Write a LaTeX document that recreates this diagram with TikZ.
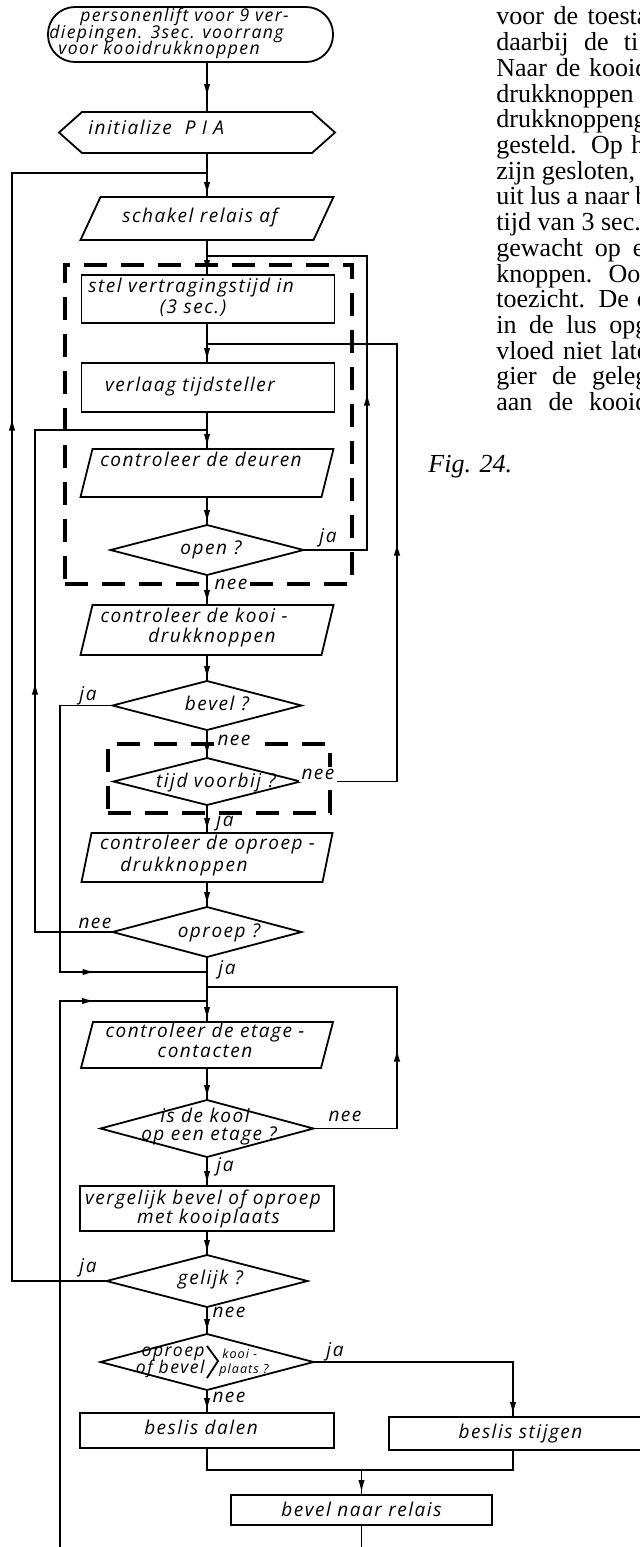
\documentclass[tikz,border=0pt]{standalone}
\usepackage{fontspec}
\setmainfont{Liberation Serif}
\newfontfamily\flowfont[LetterSpace=8]{Open Sans}
\usetikzlibrary{arrows.meta,decorations.markings}

% outline helpers for the flowchart symbols
\newcommand\iopath[2]{\draw[line] (#1.south west) -- ([xshift=#2]#1.north west) -- (#1.north east) -- ([xshift=-#2]#1.south east) -- cycle;}
\newcommand\decpath[1]{\draw[line] (#1.north) -- (#1.east) -- (#1.south) -- (#1.west) -- cycle;}
% one justified line of the running text
\newcommand\bline[2][76pt]{\makebox[#1][s]{#2}}

\begin{document}
\begin{tikzpicture}[x=0.5pt,y=-0.5pt,
  line/.style={line width=0.9pt},
  tipat/.style={postaction={decorate,decoration={markings,
      mark=at position #1 with {\arrow{Latex[length=6.5pt,width=3.2pt]}}}}},
  sz/.style 2 args={minimum width=#1*0.5pt, minimum height=#2*0.5pt},
  shapebox/.style={inner sep=0pt, outer sep=0pt},
  procbox/.style={shapebox, draw, line width=0.9pt},
  grp/.style={shapebox, draw, line width=1.6pt, dash pattern=on 11.5pt off 7pt},
  txt/.style={inner sep=0pt, anchor=mid, font=\flowfont\itshape\fontsize{9.5pt}{11pt}\selectfont},
  txtl/.style={txt, anchor=mid west},
  termtxt/.style={txtl, font=\flowfont\itshape\fontsize{8.8pt}{10pt}\selectfont},
  small/.style={txt, font=\flowfont\itshape\fontsize{6.3pt}{7pt}\selectfont},
  wlbl/.style={txt, fill=white, inner xsep=1.5pt, inner ysep=1pt},
  body/.style={inner sep=0pt, anchor=base west, font=\fontsize{13pt}{14pt}\selectfont},
]
\useasboundingbox (0,0) rectangle (640,1547);
\clip (0,0) rectangle (640,1547);

% reference rails
\coordinate (colx) at (207,0);
\coordinate (railA) at (12,173);
\coordinate (railB) at (35,430);
\coordinate (railC) at (60,972);
\coordinate (railD) at (60,1001);
\coordinate (railE) at (367,256);
\coordinate (railF) at (397,344);
\coordinate (railG) at (397,987);
\coordinate (railS) at (513,0);
\coordinate (mergeY) at (0,1470);
\coordinate (botL) at (60,1547);
\coordinate (botR) at (361.5,1547);

% ---------- symbols ----------
\node[shapebox, sz={285}{55}] (term) at (190.5,34.5) {};
\draw[line, rounded corners=13.5pt] (term.south west) rectangle (term.north east);

\node[shapebox, sz={276}{41}] (init) at (197,132.5) {};
\draw[line] (init.west) -- ([xshift=11.5pt]init.north west) -- ([xshift=-11.5pt]init.north east)
  -- (init.east) -- ([xshift=-11.5pt]init.south east) -- ([xshift=11.5pt]init.south west) -- cycle;

\node[shapebox, sz={253}{43}] (schakel) at (207,218.5) {};
\iopath{schakel}{10pt}

\node[grp, sz={287}{319}] (grp1) at (208.5,424.5) {};
\node[procbox, sz={253}{48}] (stel) at (208,299) {};
\node[procbox, sz={253}{49}] (verlaag) at (208,387.5) {};
\node[shapebox, sz={253}{48}] (deuren) at (207,473) {};
\iopath{deuren}{6pt}
\node[shapebox, sz={193}{50}] (open) at (207,550) {};
\decpath{open}

\node[shapebox, sz={253}{50}] (kooidruk) at (207,630) {};
\iopath{kooidruk}{6pt}
\node[shapebox, sz={189}{49}] (bevel) at (207,705.5) {};
\decpath{bevel}

\node[grp, sz={222}{69}] (grp2) at (219,778.5) {};
\node[shapebox, sz={187}{47}] (tijd) at (207,781.5) {};
\decpath{tijd}

\node[shapebox, sz={251}{49}] (oproepdruk) at (207,857.5) {};
\iopath{oproepdruk}{5pt}
\node[shapebox, sz={189}{50}] (oproep) at (207,932) {};
\decpath{oproep}

\node[shapebox, sz={252}{46}] (etage) at (207,1045) {};
\iopath{etage}{6pt}
\node[shapebox, sz={213}{57}] (kooi) at (207,1128.5) {};
\decpath{kooi}

\node[procbox, sz={254}{45}] (vergelijk) at (207,1208.5) {};
\node[shapebox, sz={201}{52}] (gelijk) at (207,1281) {};
\decpath{gelijk}
\node[shapebox, sz={213}{56}] (cmp) at (207,1362) {};
\decpath{cmp}

\node[procbox, sz={254}{35}] (dalen) at (207,1430.5) {};
\node[procbox, sz={261}{33}] (stijgen) at (519.5,1433.5) {};
\node[procbox, sz={261}{30}] (relais) at (361.5,1510) {};

% ---------- texts in the symbols ----------
\node[termtxt] (t1) at (80,17) {personenlift voor 9 ver-};
\node[termtxt] (t2) at (49,33.5) {diepingen. 3sec. voorrang};
\node[termtxt] (t3) at (58,50) {voor kooidrukknoppen};
\node[txtl] (tinit) at (88,130) {initialize\ \ P\,\,I\,\,A};
\node[txt] (tschakel) at (200,218) {schakel relais af};
\node[txtl] (tstel1) at (88,288) {stel vertragingstijd in};
\node[txt] (tstel2) at (193,309) {(3 sec.)};
\node[txt] (tverlaag) at (190,387) {verlaag tijdsteller};
\node[txt] (tdeuren) at (201,462) {controleer de deuren};
\node[txt] (topen) at (211,550) {open ?};
\node[txt] (tkd1) at (194,618) {controleer de kooi -};
\node[txt] (tkd2) at (212,638) {drukknoppen};
\node[txt] (tbevel) at (217,706) {bevel ?};
\node[txt] (ttijd) at (216,783) {tijd voorbij ?};
\node[txt] (tod1) at (207.5,845) {controleer de oproep -};
\node[txt] (tod2) at (184,867) {drukknoppen};
\node[txt] (toproep) at (219,933) {oproep ?};
\node[txt] (tet1) at (205,1033) {controleer de etage -};
\node[txt] (tet2) at (205,1053) {contacten};
\node[txt] (tk1) at (205,1118) {is de kooi};
\node[txt] (tk2) at (209,1136) {op een etage ?};
\node[txt] (tv1) at (203,1200) {vergelijk bevel of oproep};
\node[txt] (tv2) at (208.5,1219) {met kooiplaats};
\node[txt] (tgelijk) at (210.5,1280) {gelijk ?};
\node[txt, anchor=mid east, font=\flowfont\itshape\fontsize{8.8pt}{10pt}\selectfont] (tc1) at (205,1352) {oproep};
\node[txt, anchor=mid east, font=\flowfont\itshape\fontsize{8.8pt}{10pt}\selectfont] (tc2) at (205,1369) {of bevel};
\draw[line] (207,1346) -- (218,1361) -- (207,1378);
\node[small, anchor=mid west] (tc3) at (222,1354) {kooi -};
\node[small, anchor=mid west] (tc4) at (219,1369) {plaats ?};
\node[txt] (tdalen) at (201,1430) {beslis dalen};
\node[txt] (tstijgen) at (520.5,1434) {beslis stijgen};
\node[txt] (trelais) at (361.5,1512) {bevel naar relais};

% ---------- main column ----------
\draw[line, tipat=17.5pt] (term.south -| colx) -- (init.north -| colx);
\draw[line, tipat=-1pt] (init.south -| colx) -- (schakel.north);
\draw[line, tipat=-1pt] (schakel.south) -- (stel.north -| colx);
\draw[line, tipat=-1pt] (stel.south -| colx) -- (verlaag.north -| colx);
\draw[line, tipat=-1pt] (verlaag.south -| colx) -- (deuren.north);
\draw[line, tipat=-1pt] (deuren.south) -- (open.north);
\draw[line, tipat=-1pt] (open.south) -- (kooidruk.north);
\draw[line, tipat=-1pt] (kooidruk.south) -- (bevel.north);
\draw[line, tipat=-1pt] (bevel.south) -- (tijd.north);
\draw[line, tipat=-1pt] (tijd.south) -- (oproepdruk.north);
\draw[line, tipat=-1pt] (oproepdruk.south) -- (oproep.north);
\draw[line, tipat=-1pt] (oproep.south) -- (etage.north);
\draw[line, tipat=-1pt] (etage.south) -- (kooi.north);
\draw[line, tipat=-1pt] (kooi.south) -- (vergelijk.north);
\draw[line, tipat=-1pt] (vergelijk.south) -- (gelijk.north);
\draw[line, tipat=-1pt] (gelijk.south) -- (cmp.north);
\draw[line, tipat=-1pt] (cmp.south) -- (dalen.north);

% ---------- loops ----------
\draw[line, tipat=479pt] (gelijk.west) -| (railA) -- (railA -| colx);
\draw[line, tipat=164pt] (oproep.west) -| (railB) -- (railB -| colx);
\draw[line, tipat=177.25pt] (bevel.west) -| (railC) -- (railC -| colx);
\draw[line, tipat=290.5pt] (botL) -- (railD) -- (railD -| colx);
\draw[line, tipat=110.5pt] (open.east) -| (railE) -- (railE -| colx);
\draw[line, tipat=167.75pt] (tijd.east) -| (railF) -- (railF -| colx);
\draw[line, tipat=81.75pt] (kooi.east) -| (railG) -- (railG -| colx);

% ---------- up / down decision ----------
\draw[line, tipat=-1pt] (cmp.east) -| (railS |- stijgen.north);
\draw[line] (dalen.south) -- (dalen.south |- mergeY) -- (railS |- mergeY) -- (railS |- stijgen.south);
\draw[line, tipat=-1pt] (relais.north |- mergeY) -- (relais.north);
\draw[line] (relais.south) -- (botR);

% ---------- branch labels ----------
\node[txt] (lOpenJa) at (328,538) {ja};
\node[wlbl] (lOpenNee) at (231,585) {nee};
\node[txt] (lBevelJa) at (88,696) {ja};
\node[wlbl] (lBevelNee) at (234,741) {nee};
\node[wlbl] (lTijdNee) at (318,775) {nee};
\node[txt] (lTijdJa) at (225,822) {ja};
\node[txt] (lOproepNee) at (95,924) {nee};
\node[txt] (lOproepJa) at (227,970) {ja};
\node[txt] (lKooiNee) at (345,1117) {nee};
\node[txt] (lKooiJa) at (225,1167) {ja};
\node[txt] (lGelijkJa) at (88,1268) {ja};
\node[txt] (lGelijkNee) at (229,1313) {nee};
\node[txt] (lCmpJa) at (335,1352) {ja};
\node[txt] (lCmpNee) at (229,1398) {nee};

% ---------- running text beside the chart ----------
\node[body] (b1) at (496,25) {\bline{voor de toesta}};
\node[body] (b2) at (496,50.7) {\bline[71pt]{daarbij de ti}};
\node[body] (b3) at (496,76.4) {\bline{Naar de kooid}};
\node[body] (b4) at (496,102.1) {drukknoppen};
\node[body] (b5) at (496,127.8) {drukknoppeng};
\node[body] (b6) at (496,153.5) {\bline[74pt]{gesteld. Op h}};
\node[body] (b7) at (496,179.2) {zijn gesloten,};
\node[body] (b8) at (496,204.9) {\bline{uit lus a naar b}};
\node[body] (b9) at (496,230.6) {tijd van 3 sec.};
\node[body] (b10) at (496,256.3) {\bline[74pt]{gewacht op e}};
\node[body] (b11) at (496,282) {\bline[72pt]{knoppen. Oo}};
\node[body] (b12) at (496,307.7) {\bline{toezicht. De c}};
\node[body] (b13) at (496,333.4) {\bline{in de lus opg}};
\node[body] (b14) at (496,359.1) {\bline{vloed niet late}};
\node[body] (b15) at (496,384.8) {\bline{gier de geleg}};
\node[body] (b16) at (496,410.5) {\bline{aan de kooid}};
\node[body, font=\itshape\fontsize{13pt}{14pt}\selectfont] (fig) at (428,472) {Fig. 24.};
\end{tikzpicture}
\end{document}
